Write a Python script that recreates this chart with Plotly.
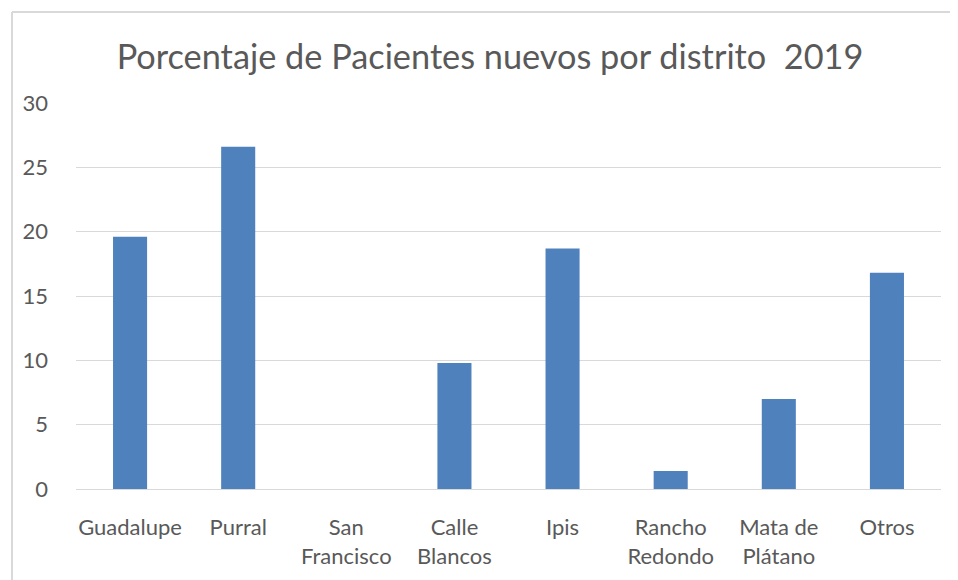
import plotly.graph_objects as go

categories = ["Guadalupe", "Purral", "San<br>Francisco", "Calle<br>Blancos", "Ipis",
              "Rancho<br>Redondo", "Mata de<br>Plátano", "Otros"]
values = [19.6, 26.6, 0, 9.8, 18.7, 1.4, 7.0, 16.8]
y_ticks = [0, 5, 10, 15, 20, 25, 30]

font_family = "Lato, Open Sans, sans-serif"
text_color = "#595959"
border = dict(color="#d9d9d9", width=2)

fig = go.Figure(go.Bar(x=categories, y=values, marker=dict(color="#4F81BD", line=dict(width=0)),
                       hoverinfo="x+y"))

bx0 = (4 - 68) / 865
by1 = (481 - 4) / 386

fig.update_layout(
    width=950, height=572,
    margin=dict(l=68, r=17, t=95, b=91),
    paper_bgcolor="white", plot_bgcolor="white",
    bargap=0.685,
    showlegend=False,
    title=dict(text="Porcentaje de Pacientes nuevos por distrito  2019",
               x=0.5074, xanchor="center", y=0.9143, yanchor="middle",
               font=dict(family=font_family, size=34.3, color=text_color)),
    font=dict(family=font_family, size=22, color=text_color),
    xaxis=dict(showgrid=False, showline=False, ticks="", ticklabelstandoff=23,
               tickfont=dict(size=22, color=text_color)),
    yaxis=dict(range=[0, 30], tickvals=y_ticks, showgrid=True, gridcolor="#d9d9d9", gridwidth=1,
               zeroline=True, zerolinecolor="#d9d9d9", zerolinewidth=1, showline=False,
               ticks="", ticklabelstandoff=27, tickfont=dict(size=22, color=text_color)),
    shapes=[
        dict(type="line", xref="paper", yref="paper", x0=bx0, x1=1.1, y0=by1, y1=by1,
             line=border, layer="below"),
        dict(type="line", xref="paper", yref="paper", x0=bx0, x1=bx0, y0=-0.4, y1=by1,
             line=border, layer="below"),
    ],
)

fig.write_html("out.html")
